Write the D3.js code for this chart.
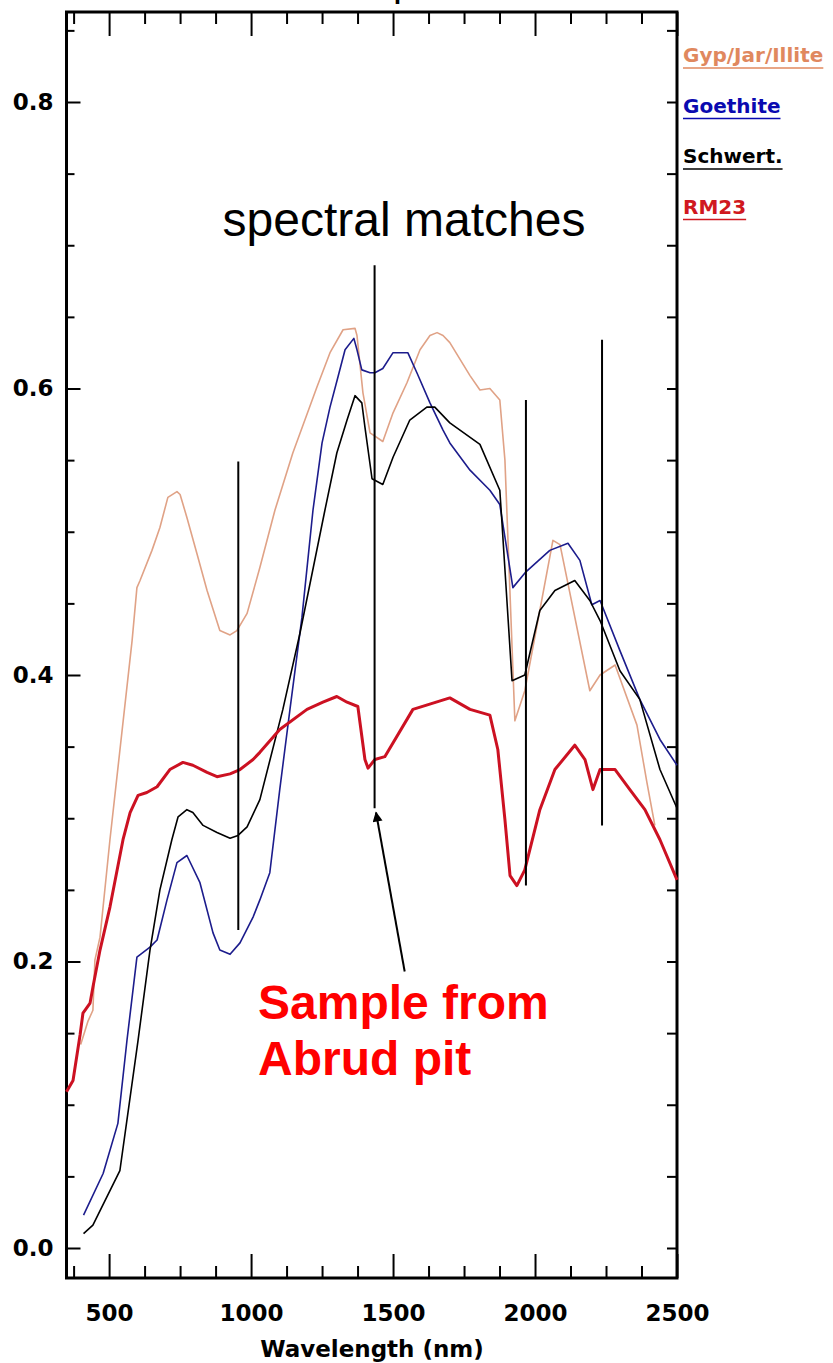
<!DOCTYPE html>
<html>
<head>
<meta charset="utf-8">
<script src="https://cdn.jsdelivr.net/npm/d3@7"></script>
<style>
  body { margin: 0; background: #fff; }
  .axis text { font-family: "DejaVu Sans", Arial, sans-serif; font-weight: bold; fill: #000; }
  .axis line { stroke: #000; }
</style>
</head>
<body>
<svg id="chart"></svg>
<script>
// reflectance spectra, [wavelength nm, reflectance]
const gypJarIllite = [
  [400,0.142],[425,0.158],[443,0.166],[450,0.201],[468,0.217],[503,0.285],[581,0.424],
  [598,0.461],[609,0.466],[651,0.487],[679,0.503],[707,0.524],[739,0.528],[750,0.526],
  [774,0.510],[809,0.485],[845,0.459],[890,0.431],[926,0.428],[950,0.431],[986,0.443],
  [1031,0.475],[1084,0.515],[1147,0.555],[1232,0.601],[1278,0.625],[1324,0.641],
  [1366,0.642],[1373,0.637],[1394,0.597],[1419,0.569],[1464,0.563],[1500,0.583],
  [1549,0.604],[1595,0.627],[1630,0.637],[1655,0.639],[1676,0.637],[1700,0.632],
  [1771,0.609],[1806,0.599],[1841,0.600],[1876,0.592],[1894,0.550],[1929,0.368],
  [1964,0.389],[2063,0.494],[2088,0.491],[2193,0.389],[2229,0.400],[2282,0.407],
  [2359,0.365],[2394,0.325],[2422,0.295]
];
const goethite = [
  [410,0.023],[479,0.052],[531,0.087],[563,0.145],[598,0.203],[644,0.210],[669,0.215],
  [704,0.243],[739,0.269],[774,0.274],[820,0.255],[866,0.220],[890,0.208],[926,0.205],
  [961,0.213],[1007,0.231],[1031,0.243],[1066,0.262],[1101,0.320],[1137,0.376],
  [1179,0.440],[1218,0.515],[1250,0.562],[1278,0.587],[1306,0.608],[1331,0.627],
  [1362,0.635],[1373,0.627],[1390,0.613],[1419,0.611],[1436,0.611],[1464,0.614],
  [1500,0.625],[1552,0.625],[1584,0.611],[1630,0.590],[1676,0.571],[1700,0.562],
  [1771,0.543],[1841,0.529],[1876,0.519],[1922,0.461],[1968,0.472],[2052,0.487],
  [2116,0.492],[2158,0.480],[2200,0.449],[2229,0.452],[2299,0.417],[2369,0.383],
  [2440,0.355],[2500,0.337]
];
const schwertmannite = [
  [410,0.010],[443,0.016],[538,0.054],[602,0.145],[644,0.208],[679,0.250],[721,0.285],
  [743,0.301],[774,0.306],[795,0.304],[831,0.295],[880,0.290],[926,0.286],[954,0.288],
  [986,0.294],[1031,0.313],[1112,0.376],[1172,0.429],[1260,0.515],[1302,0.555],
  [1338,0.578],[1366,0.595],[1390,0.590],[1401,0.573],[1426,0.537],[1464,0.533],
  [1500,0.552],[1559,0.578],[1619,0.587],[1647,0.587],[1700,0.576],[1806,0.561],
  [1876,0.529],[1883,0.508],[1919,0.396],[1964,0.400],[2017,0.445],[2070,0.459],
  [2140,0.466],[2193,0.452],[2229,0.438],[2299,0.403],[2369,0.383],[2440,0.334],
  [2500,0.307]
];
const rm23 = [
  [350,0.109],[373,0.117],[398,0.149],[408,0.164],[433,0.171],[443,0.182],[468,0.208],
  [503,0.238],[549,0.285],[574,0.304],[602,0.316],[633,0.318],[669,0.322],[714,0.334],
  [760,0.339],[795,0.337],[845,0.332],[880,0.329],[926,0.331],[961,0.334],[1007,0.341],
  [1031,0.346],[1101,0.362],[1197,0.376],[1253,0.381],[1302,0.385],[1338,0.381],
  [1376,0.378],[1401,0.341],[1412,0.335],[1436,0.341],[1471,0.343],[1570,0.376],
  [1700,0.384],[1771,0.376],[1841,0.372],[1869,0.348],[1894,0.299],[1912,0.260],
  [1936,0.253],[1964,0.264],[2017,0.306],[2070,0.334],[2140,0.351],[2176,0.341],
  [2204,0.320],[2229,0.334],[2282,0.334],[2334,0.320],[2387,0.306],[2440,0.285],
  [2500,0.257]
];

// vertical "spectral match" markers: [wavelength, low, high]
const matchLines = [[955,0.222,0.549],[1435,0.307,0.686],[1968,0.253,0.592],[2236,0.295,0.634]];

const legendLabels = ["Gyp/Jar/Illite", "Goethite", "Schwert.", "RM23"];
const legendColors = ["#e0885e", "#0a0ab0", "#000000", "#d01820"];

const xTicksMajor = [500, 1000, 1500, 2000, 2500];
const xTicksMinor = [375, 625, 750, 875, 1125, 1250, 1375, 1625, 1750, 1875, 2125, 2250, 2375];
const yTicksMajor = [0, 0.2, 0.4, 0.6, 0.8];
const yTicksMinor = [0.05, 0.1, 0.15, 0.25, 0.3, 0.35, 0.45, 0.5, 0.55, 0.65, 0.7, 0.75, 0.85];

(function(){
  let w = 833, h = 1363;
  let left = 66.5, right = 677, top = 12, bottom = 1278;

  let svg = d3.select("#chart").attr("width", w).attr("height", h);
  svg.append("rect").attr("width", w).attr("height", h).attr("fill", "#fff");

  let x = d3.scaleLinear().domain([350, 2500]).range([left, right]);
  let y = d3.scaleLinear().domain([0, 0.8]).range([1248, 102]);

  // title, only its descender shows at the top edge
  svg.append("text")
    .attr("x", 404).attr("y", -4)
    .attr("text-anchor", "middle")
    .style("font-family", "Liberation Sans, Arial, sans-serif")
    .style("font-size", "40px")
    .text("p");

  // axes (ticks point inward)
  let gb = svg.append("g").attr("class", "axis").attr("transform", `translate(0,${bottom})`);
  gb.call(d3.axisBottom(x).tickValues(xTicksMajor).tickSize(-24).tickPadding(27).tickFormat(d3.format("d")));
  gb.append("g").call(d3.axisBottom(x).tickValues(xTicksMinor).tickSize(-12).tickFormat(""));

  let gt = svg.append("g").attr("class", "axis").attr("transform", `translate(0,${top})`);
  gt.call(d3.axisTop(x).tickValues(xTicksMajor).tickSize(-24).tickFormat(""));
  gt.append("g").call(d3.axisTop(x).tickValues(xTicksMinor).tickSize(-12).tickFormat(""));

  let gl = svg.append("g").attr("class", "axis").attr("transform", `translate(${left},0)`);
  gl.call(d3.axisLeft(y).tickValues(yTicksMajor).tickSize(-14).tickPadding(13).tickFormat(d3.format(".1f")));
  gl.append("g").call(d3.axisLeft(y).tickValues(yTicksMinor).tickSize(-8).tickFormat(""));

  let gr = svg.append("g").attr("class", "axis").attr("transform", `translate(${right},0)`);
  gr.call(d3.axisRight(y).tickValues(yTicksMajor.concat(yTicksMinor)).tickSize(-10).tickFormat(""));

  svg.selectAll(".axis .domain").remove();
  svg.selectAll(".axis line").attr("stroke-width", 2);
  gb.selectAll("text").style("font-size", "23px");
  gl.selectAll("text").style("font-size", "23px");

  svg.append("text")
    .attr("x", 372).attr("y", 1357)
    .attr("text-anchor", "middle")
    .style("font-family", "DejaVu Sans, Arial, sans-serif")
    .style("font-weight", "bold")
    .style("font-size", "23px")
    .text("Wavelength (nm)");

  // frame
  svg.append("rect")
    .attr("x", left).attr("y", top)
    .attr("width", right - left).attr("height", bottom - top)
    .attr("fill", "none").attr("stroke", "#000").attr("stroke-width", 3);

  // spectra
  let line = d3.line().x(d => x(d[0])).y(d => y(d[1]));
  let series = [
    {data: gypJarIllite, color: "#e0a286", width: 1.6},
    {data: goethite, color: "#1c1c8c", width: 1.6},
    {data: schwertmannite, color: "#000", width: 1.6},
    {data: rm23, color: "#cc1122", width: 3}
  ];
  svg.append("g").selectAll("path")
    .data(series)
    .join("path")
    .attr("d", d => line(d.data))
    .attr("fill", "none")
    .attr("stroke", d => d.color)
    .attr("stroke-width", d => d.width)
    .attr("stroke-linejoin", "round");

  // match markers
  svg.append("g").selectAll("line")
    .data(matchLines)
    .join("line")
    .attr("x1", d => x(d[0])).attr("x2", d => x(d[0]))
    .attr("y1", d => y(d[1])).attr("y2", d => y(d[2]))
    .attr("stroke", "#000").attr("stroke-width", 2);

  // legend
  let lg = svg.append("g").selectAll("g")
    .data(legendLabels)
    .join("g")
    .attr("transform", (d, i) => `translate(683,${62 + i * 50.5})`);
  lg.append("text")
    .style("font-family", "DejaVu Sans, Arial, sans-serif")
    .style("font-weight", "bold")
    .style("font-size", "20px")
    .attr("fill", (d, i) => legendColors[i])
    .text(d => d);
  lg.each(function(d, i){
    let tw = d3.select(this).select("text").node().getComputedTextLength();
    d3.select(this).append("line")
      .attr("x1", 0).attr("x2", tw).attr("y1", 6).attr("y2", 6)
      .attr("stroke", legendColors[i]).attr("stroke-width", 1.5);
  });

  // annotations
  svg.append("text")
    .attr("x", 404).attr("y", 236)
    .attr("text-anchor", "middle")
    .style("font-family", "Liberation Sans, Arial, sans-serif")
    .style("font-size", "48px")
    .text("spectral matches");

  let note = svg.append("text")
    .style("font-family", "Liberation Sans, Arial, sans-serif")
    .style("font-weight", "bold")
    .style("font-size", "48px")
    .attr("fill", "#ff0000");
  note.append("tspan").attr("x", 258).attr("y", 1019).text("Sample from");
  note.append("tspan").attr("x", 258).attr("y", 1075).text("Abrud pit");

  svg.append("defs").append("marker")
    .attr("id", "arrow")
    .attr("viewBox", "0 0 10 10")
    .attr("refX", 9).attr("refY", 5)
    .attr("markerWidth", 14).attr("markerHeight", 10)
    .attr("markerUnits", "userSpaceOnUse")
    .attr("orient", "auto")
    .append("path").attr("d", "M0,0L10,5L0,10Z").attr("fill", "#000");
  svg.append("line")
    .attr("x1", x(1541)).attr("y1", y(0.193))
    .attr("x2", x(1440)).attr("y2", y(0.304))
    .attr("stroke", "#000").attr("stroke-width", 2)
    .attr("marker-end", "url(#arrow)");
})();
</script>
</body>
</html>
